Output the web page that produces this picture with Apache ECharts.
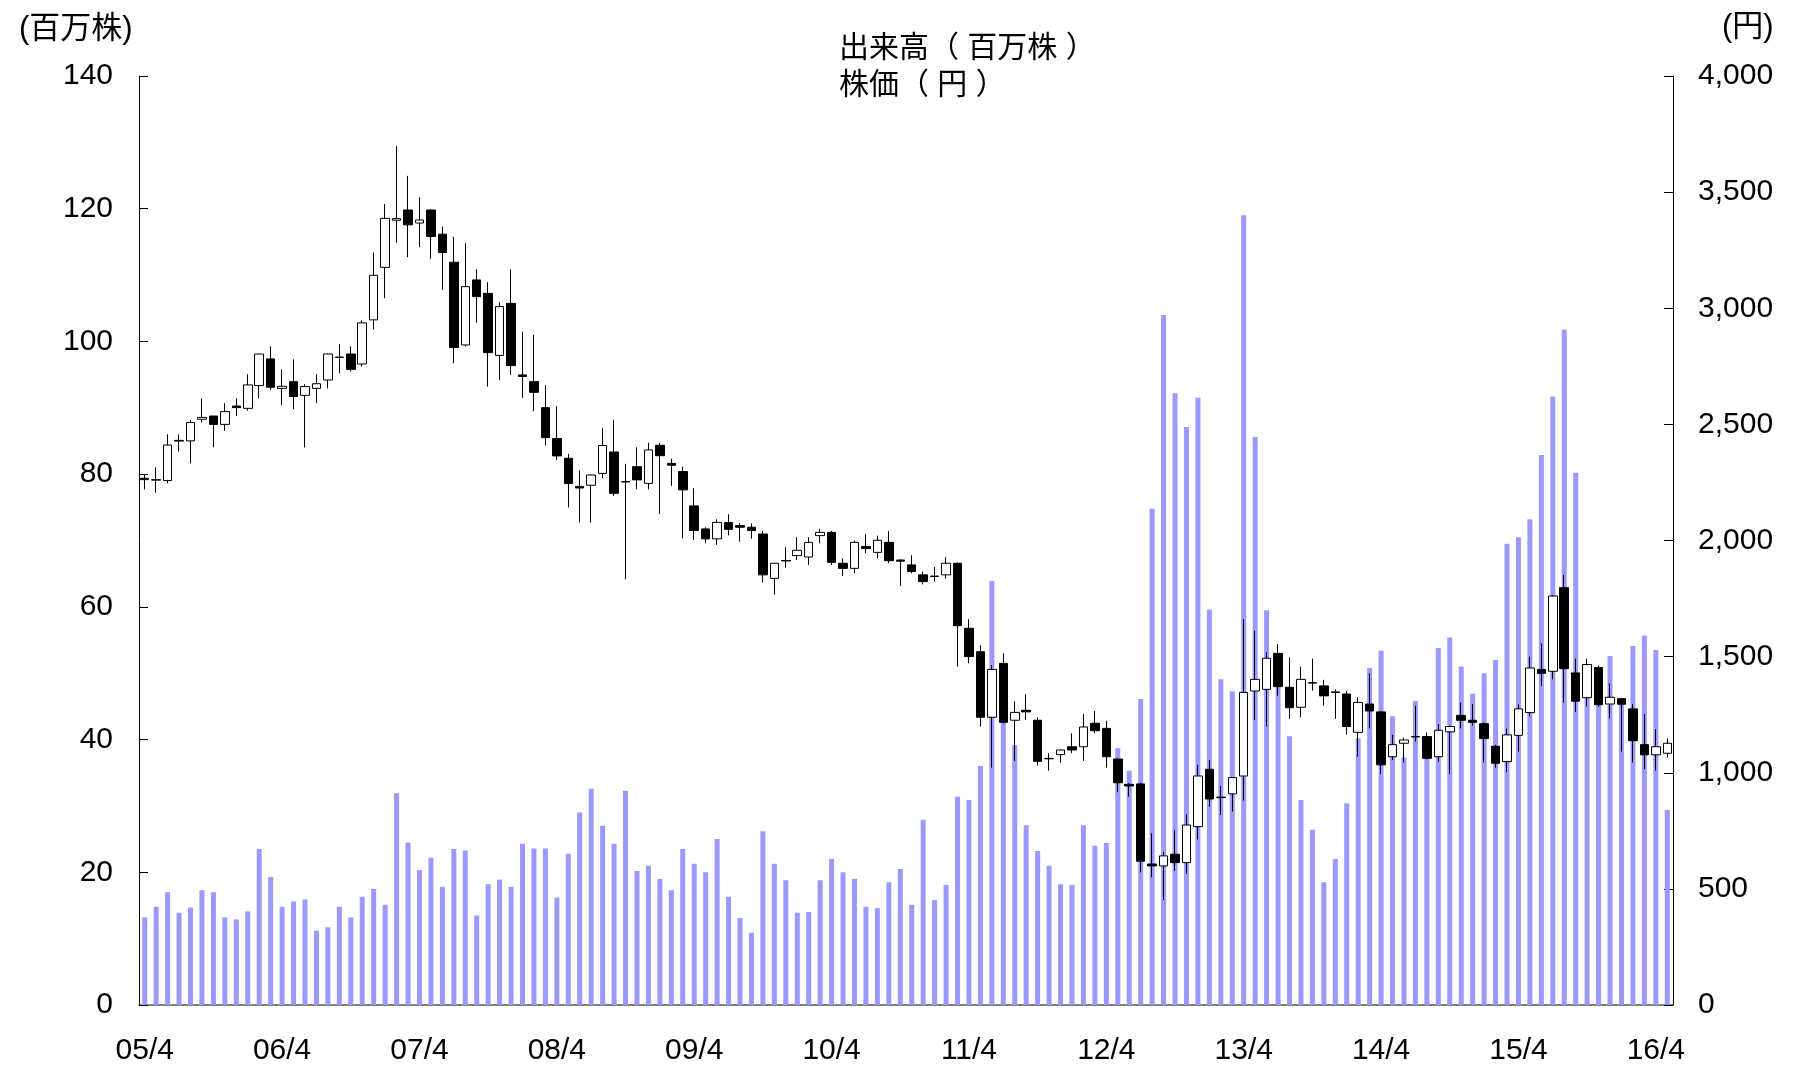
<!DOCTYPE html>
<html>
<head>
<meta charset="utf-8">
<script src="https://cdn.jsdelivr.net/npm/echarts@6/dist/echarts.min.js"></script>
<style>
  html, body { margin: 0; padding: 0; background: #fff; }
  #chart { width: 1798px; height: 1069px; }
</style>
</head>
<body>
<div id="chart"></div>
<script>
// Monthly trading volume (millions of shares), April 2005 – May 2016
const volume = [
  13.2, 14.8, 17.0, 13.9, 14.7, 17.3, 17.0, 13.2, 12.9, 14.1, 23.5, 19.3,
  14.8, 15.6, 15.9, 11.2, 11.7, 14.8, 13.2, 16.3, 17.5, 15.1, 31.9, 24.5,
  20.3, 22.2, 17.8, 23.5, 23.3, 13.5, 18.2, 18.9, 17.8, 24.3, 23.6, 23.6,
  16.2, 22.8, 29.0, 32.6, 27.0, 24.3, 32.3, 20.2, 21.0, 19.0, 17.3, 23.5,
  21.3, 20.0, 25.0, 16.3, 13.1, 10.9, 26.2, 21.3, 18.8, 13.9, 14.0, 18.8,
  22.0, 20.0, 19.0, 14.8, 14.6, 18.5, 20.5, 15.1, 27.9, 15.8, 18.1, 31.4,
  30.9, 36.0, 63.9, 46.0, 39.2, 27.1, 23.2, 21.0, 18.2, 18.1, 27.1, 24.0,
  24.4, 38.7, 35.3, 46.1, 74.8, 104.0, 92.2, 87.1, 91.5, 59.6, 49.1, 47.3,
  119.0, 85.6, 59.5, 51.0, 40.5, 30.9, 26.4, 18.5, 22.0, 30.4, 40.2, 50.8,
  53.4, 43.5, 37.3, 45.8, 39.0, 53.8, 55.4, 51.0, 46.9, 50.0, 52.0, 69.5,
  70.5, 73.2, 82.9, 91.7, 101.8, 80.2, 49.0, 48.0, 52.6, 46.0, 54.1, 55.7,
  53.5, 29.4
];

// Monthly share price (yen): open, close, low, high
const priceOpen = [
  2268, 2260, 2258, 2428, 2429, 2522, 2536, 2500, 2579, 2569, 2667, 2782,
  2655, 2684, 2625, 2655, 2691, 2788, 2803, 2760, 2950, 3176, 3379, 3423,
  3367, 3423, 3319, 3198, 2842, 3122, 3064, 2797, 3021, 2713, 2684, 2572,
  2439, 2354, 2233, 2238, 2289, 2381, 2252, 2318, 2246, 2410, 2332, 2297,
  2149, 2050, 2007, 2077, 2064, 2057, 2028, 1837, 1912, 1935, 1929, 2021,
  2035, 1902, 1880, 1974, 1949, 1992, 1916, 1895, 1852, 1845, 1852, 1902,
  1622, 1521, 1239, 1471, 1226, 1269, 1226, 1060, 1078, 1112, 1112, 1213,
  1191, 1059, 950, 952, 607, 599, 649, 613, 768, 1015, 893, 909,
  986, 1352, 1359, 1514, 1368, 1282, 1386, 1374, 1348, 1339, 1174, 1296,
  1262, 1069, 1127, 1154, 1156, 1069, 1176, 1247, 1226, 1211, 1114, 1048,
  1161, 1259, 1445, 1437, 1797, 1430, 1323, 1453, 1296, 1319, 1275, 1121,
  1077, 1084
];
const priceClose = [
  2262, 2262, 2411, 2431, 2508, 2530, 2500, 2555, 2572, 2670, 2803, 2660,
  2664, 2620, 2663, 2675, 2803, 2790, 2737, 2937, 3142, 3387, 3386, 3359,
  3380, 3309, 3240, 2831, 3093, 3050, 2809, 3007, 2753, 2706, 2638, 2443,
  2364, 2245, 2226, 2282, 2409, 2203, 2254, 2261, 2390, 2365, 2324, 2218,
  2043, 2007, 2078, 2048, 2057, 2043, 1852, 1902, 1914, 1958, 1992, 2035,
  1906, 1880, 1992, 1966, 2001, 1913, 1911, 1866, 1823, 1847, 1902, 1633,
  1500, 1239, 1445, 1217, 1260, 1262, 1049, 1062, 1098, 1098, 1197, 1181,
  1069, 957, 943, 619, 599, 642, 613, 775, 986, 887, 895, 979,
  1346, 1402, 1493, 1371, 1280, 1402, 1388, 1331, 1346, 1199, 1303, 1266,
  1034, 1121, 1141, 1156, 1062, 1183, 1199, 1226, 1217, 1147, 1041, 1163,
  1275, 1451, 1428, 1761, 1448, 1308, 1466, 1293, 1325, 1295, 1138, 1077,
  1112, 1127
];
const priceLow = [
  2220, 2206, 2246, 2383, 2332, 2508, 2401, 2473, 2536, 2559, 2612, 2648,
  2584, 2565, 2401, 2591, 2655, 2720, 2727, 2749, 2909, 3043, 3283, 3220,
  3263, 3212, 3079, 2763, 2835, 2938, 2663, 2691, 2713, 2614, 2556, 2409,
  2347, 2142, 2078, 2078, 2268, 2192, 1833, 2220, 2220, 2114, 2235, 2009,
  2002, 1988, 1981, 2022, 1995, 2008, 1819, 1768, 1883, 1916, 1895, 1988,
  1895, 1847, 1859, 1945, 1923, 1902, 1804, 1859, 1811, 1823, 1837, 1457,
  1471, 1199, 1022, 1213, 1051, 1227, 1031, 1009, 1044, 1084, 1051, 1170,
  1022, 916, 897, 571, 550, 452, 578, 564, 713, 854, 818, 833,
  880, 1227, 1199, 1332, 1232, 1239, 1354, 1289, 1232, 1164, 1069, 1191,
  995, 1055, 1044, 1134, 1058, 1048, 995, 1191, 1203, 1044, 1022, 1002,
  1091, 1242, 1374, 1402, 1302, 1262, 1285, 1285, 1234, 1091, 1044, 1015,
  1009, 1065
];
const priceHigh = [
  2282, 2315, 2457, 2457, 2519, 2612, 2536, 2591, 2612, 2716, 2805, 2836,
  2737, 2780, 2673, 2716, 2805, 2845, 2836, 2948, 3240, 3449, 3699, 3570,
  3478, 3425, 3352, 3308, 3280, 3168, 3112, 3026, 3168, 2899, 2886, 2670,
  2578, 2373, 2302, 2284, 2485, 2520, 2330, 2401, 2421, 2421, 2352, 2318,
  2225, 2057, 2091, 2113, 2074, 2074, 2041, 1904, 1971, 2014, 2014, 2050,
  2041, 1923, 1999, 2027, 2021, 2041, 1918, 1936, 1866, 1886, 1929, 1906,
  1661, 1549, 1464, 1514, 1308, 1338, 1239, 1084, 1100, 1170, 1253, 1266,
  1224, 1061, 955, 957, 739, 660, 754, 822, 1034, 1055, 943, 981,
  1661, 1612, 1520, 1554, 1497, 1457, 1491, 1400, 1359, 1352, 1325, 1428,
  1264, 1163, 1151, 1289, 1173, 1210, 1203, 1302, 1296, 1217, 1120, 1191,
  1295, 1500, 1557, 1765, 1852, 1491, 1491, 1460, 1385, 1322, 1296, 1253,
  1188, 1148
];

// Month categories, "YY/M", starting April 2005
const startYear = 2005, startMonth = 4;
const months = [];
for (let k = 0; k < volume.length; k++) {
  const m = startMonth - 1 + k;
  const yy = String((startYear + Math.floor(m / 12)) % 100).padStart(2, '0');
  months.push(yy + '/' + ((m % 12) + 1));
}

// Axis ranges and tick steps
const volumeAxis = { min: 0, max: 140, step: 20 };
const priceAxis = { min: 0, max: 4000, step: 500 };

const candles = priceOpen.map((o, k) => [o, priceClose[k], priceLow[k], priceHigh[k]]);

const FONT = "'Liberation Sans', Arial, 'Noto Sans CJK JP', sans-serif";
const chart = echarts.init(document.getElementById('chart'), null, { renderer: 'canvas' });

chart.setOption({
  animation: false,
  backgroundColor: '#ffffff',
  textStyle: { fontFamily: FONT, color: '#000' },
  title: [
    { text: '(百万株)', left: 14, top: 9,
      textStyle: { fontSize: 31, fontWeight: 'normal', color: '#000', fontFamily: FONT } },
    { text: '(円)', left: 1717, top: 7,
      textStyle: { fontSize: 31, fontWeight: 'normal', color: '#000', fontFamily: FONT } },
    { text: '出来高（ 百万株 ）\n株価（ 円 ）', left: 834, top: 25,
      textStyle: { fontSize: 30, fontWeight: 'normal', color: '#000', lineHeight: 37, fontFamily: FONT } }
  ],
  grid: { left: 139, right: 125, top: 76, bottom: 64, containLabel: false },
  xAxis: {
    type: 'category',
    data: months,
    boundaryGap: true,
    axisLine: { lineStyle: { color: '#555', width: 1.5 } },
    axisTick: { inside: true, length: 9, interval: 11, alignWithLabel: false, lineStyle: { color: '#000' } },
    axisLabel: { interval: 11, fontSize: 30, color: '#000', margin: 31, fontFamily: FONT },
    splitLine: { show: false }
  },
  yAxis: [
    {
      type: 'value', position: 'left',
      min: volumeAxis.min, max: volumeAxis.max, interval: volumeAxis.step,
      axisLine: { show: true, lineStyle: { color: '#000', width: 1 } },
      axisTick: { show: true, inside: true, length: 9, lineStyle: { color: '#000' } },
      axisLabel: { fontSize: 30, color: '#000', margin: 26, fontFamily: FONT },
      splitLine: { show: false }
    },
    {
      type: 'value', position: 'right',
      min: priceAxis.min, max: priceAxis.max, interval: priceAxis.step,
      axisLine: { show: true, lineStyle: { color: '#000', width: 1 } },
      axisTick: { show: true, inside: true, length: 9, lineStyle: { color: '#000' } },
      axisLabel: {
        fontSize: 30, color: '#000', margin: 25, fontFamily: FONT,
        formatter: v => v.toLocaleString('en-US')
      },
      splitLine: { show: false }
    }
  ],
  series: [
    {
      name: '出来高（百万株）',
      type: 'bar',
      yAxisIndex: 0,
      data: volume,
      barWidth: 5,
      itemStyle: { color: '#9999ff' },
      z: 1
    },
    {
      name: '株価（円）',
      type: 'candlestick',
      yAxisIndex: 1,
      data: candles,
      barWidth: 9,
      itemStyle: {
        color: '#ffffff',
        color0: '#000000',
        borderColor: '#000000',
        borderColor0: '#000000',
        borderWidth: 1
      },
      z: 3
    }
  ]
});
</script>
</body>
</html>
